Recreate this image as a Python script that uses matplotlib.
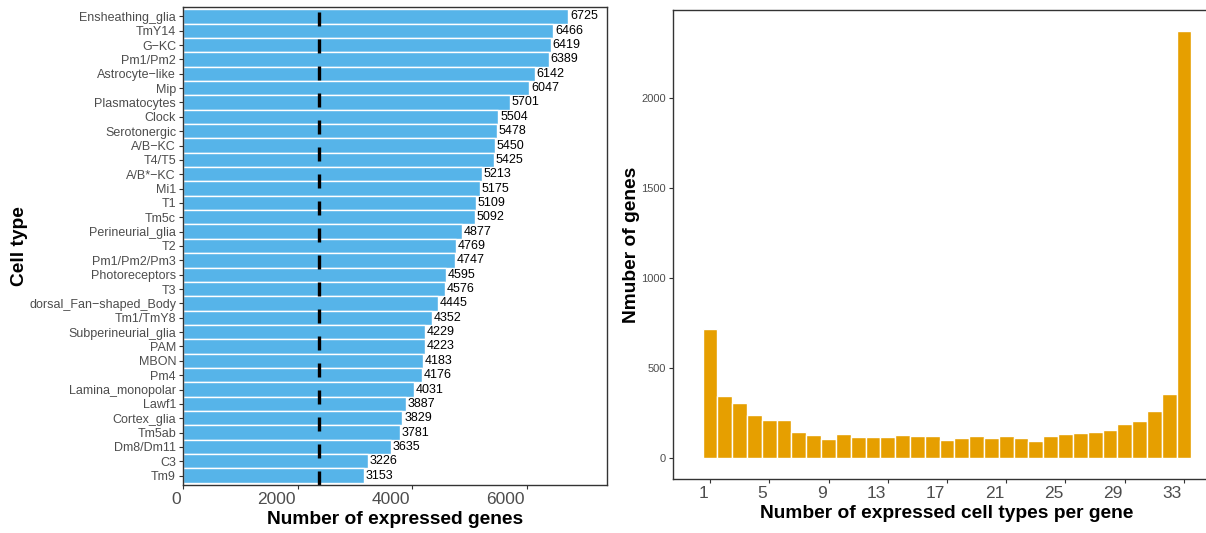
import matplotlib
matplotlib.use("Agg")
import matplotlib.pyplot as plt
import matplotlib.transforms as mtransforms

plt.rcParams['font.family'] = ['Liberation Sans', 'DejaVu Sans']

# cell types listed top to bottom, with the number of expressed genes
cell_types = [
    "Ensheathing_glia", "TmY14", "G\u2212KC", "Pm1/Pm2", "Astrocyte\u2212like", "Mip",
    "Plasmatocytes", "Clock", "Serotonergic", "A/B\u2212KC", "T4/T5", "A/B*\u2212KC",
    "Mi1", "T1", "Tm5c", "Perineurial_glia", "T2", "Pm1/Pm2/Pm3", "Photoreceptors",
    "T3", "dorsal_Fan\u2212shaped_Body", "Tm1/TmY8", "Subperineurial_glia", "PAM",
    "MBON", "Pm4", "Lamina_monopolar", "Lawf1", "Cortex_glia", "Tm5ab", "Dm8/Dm11",
    "C3", "Tm9",
]
n_genes = [
    6725, 6466, 6419, 6389, 6142, 6047, 5701, 5504, 5478, 5450, 5425, 5213,
    5175, 5109, 5092, 4877, 4769, 4747, 4595, 4576, 4445, 4352, 4229, 4223,
    4183, 4176, 4031, 3887, 3829, 3781, 3635, 3226, 3153,
]
ubiquitous_genes = 2370

# histogram: number of cell types a gene is expressed in
n_celltypes = list(range(1, 34))
gene_counts = [
    714, 345, 306, 239, 211, 211, 144, 127, 104, 132, 116, 116, 116, 127, 121,
    121, 99, 110, 121, 110, 121, 110, 93, 121, 132, 138, 144, 155, 188, 205,
    261, 356, 2370,
]
hist_ticks = [1, 5, 9, 13, 17, 21, 25, 29, 33]

W, H = 1206, 533
fig = plt.figure(figsize=(W / 100, H / 100), dpi=100)

spine_col = "#333333"
tick_col = "#4D4D4D"


def style(ax):
    for s in ax.spines.values():
        s.set_color(spine_col)
        s.set_linewidth(1.0)
    ax.tick_params(length=3, width=0.8, color=spine_col, labelcolor=tick_col)
    ax.tick_params(axis="x", labelsize=12.5, pad=2)
    # x tick labels sit right-aligned against their ticks, like the original
    shift = mtransforms.ScaledTranslation(-2 / 100, 0, fig.dpi_scale_trans)
    for lab in ax.get_xticklabels():
        lab.set_horizontalalignment("right")
        lab.set_transform(lab.get_transform() + shift)


# ---- left: genes per cell type
ax1 = fig.add_axes([183 / W, 1 - 485 / H, 424 / W, 478 / H])
ypos = list(range(len(cell_types) - 1, -1, -1))
ax1.barh(ypos, n_genes, height=1.0, color="#56B4E9", edgecolor="white", linewidth=1.0)
for y, v in zip(ypos, n_genes):
    ax1.text(v + 30, y, str(v), va="center", ha="left", fontsize=9, color="black")
ax1.axvline(ubiquitous_genes, color="black", lw=2.4, linestyle=(0, (4.2, 3.9)))
ax1.set_xlim(0, 7400)
ax1.set_ylim(-0.65, len(cell_types) - 0.35)
ax1.set_yticks(ypos)
ax1.set_yticklabels(cell_types)
ax1.set_xticks([0, 2000, 4000, 6000])
style(ax1)
ax1.tick_params(axis="y", labelsize=9, pad=2)
ax1.set_xlabel("Number of expressed genes", fontsize=13.75, fontweight="bold", labelpad=3)
ax1.set_ylabel("Cell type", fontsize=13.75, fontweight="bold", labelpad=0.5)

# ---- right: histogram of cell types per gene
ax2 = fig.add_axes([673 / W, 1 - 479 / H, 548 / W, 469 / H])
ax2.bar(n_celltypes, gene_counts, width=1.0, color="#E69F00", edgecolor="white", linewidth=1.0)
ax2.set_xlim(-1.5, 35.5)
ax2.set_ylim(-118.5, 2488.5)
ax2.set_xticks(hist_ticks)
ax2.set_yticks([0, 500, 1000, 1500, 2000])
style(ax2)
ax2.tick_params(axis="y", labelsize=8, pad=2)
ax2.set_xlabel("Number of expressed cell types per gene", fontsize=13.75, fontweight="bold", labelpad=3)
ax2.set_ylabel("Nmuber of genes", fontsize=13.75, fontweight="bold", labelpad=1)

fig.savefig("out.png", dpi=100)
